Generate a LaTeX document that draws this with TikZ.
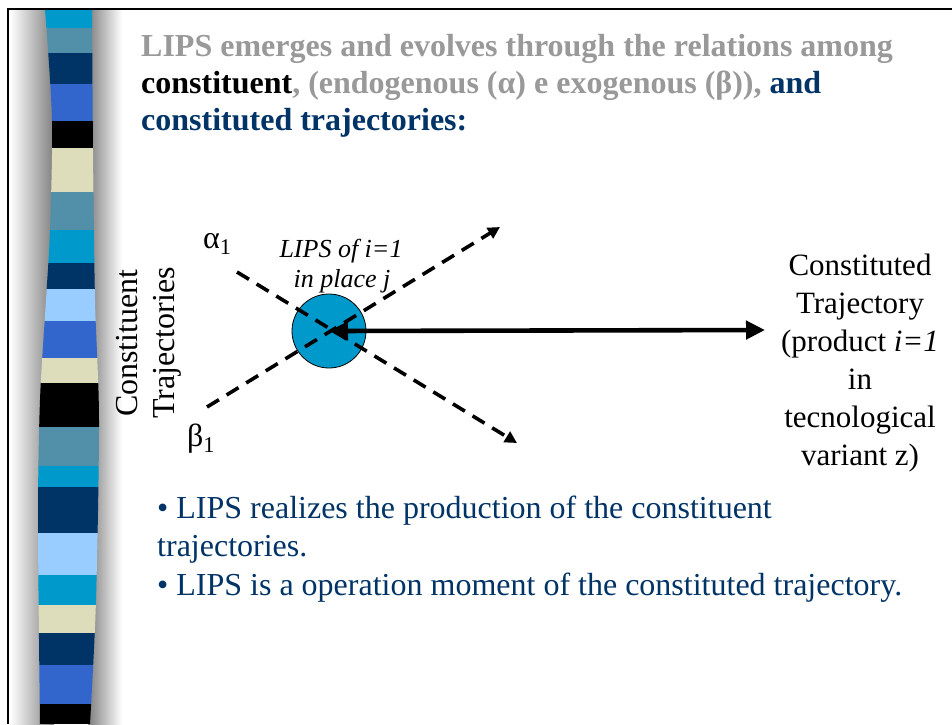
\documentclass[tikz,border=0pt]{standalone}
\usepackage{fontspec}
\setmainfont{Liberation Serif}
\usetikzlibrary{
    arrows.meta,
    positioning
}
\definecolor{titlegray}{RGB}{153,153,153}
\definecolor{deepblue}{RGB}{0,51,102}
\definecolor{lipsblue}{RGB}{0,153,204}
\definecolor{barcyan}{RGB}{0,153,204}
\definecolor{barteal}{RGB}{82,144,170}
\definecolor{barnavy}{RGB}{0,51,102}
\definecolor{barblue}{RGB}{51,102,204}
\definecolor{barcream}{RGB}{221,221,187}
\definecolor{barsky}{RGB}{153,204,255}
\tikzset{
  titleline/.style  = {anchor=base west, inner sep=0pt,
                       font=\fontsize{32}{37}\selectfont\bfseries, text=titlegray},
  bulletline/.style = {anchor=base west, inner sep=0pt,
                       font=\fontsize{32}{38}\selectfont, text=deepblue},
  trajtext/.style   = {align=center, inner sep=0pt,
                       font=\fontsize{31}{38}\selectfont},
  greeklbl/.style   = {anchor=base west, inner sep=0pt,
                       font=\fontsize{32}{36}\selectfont},
  lipslbl/.style    = {anchor=base, inner sep=0pt,
                       font=\fontsize{26}{30}\selectfont\itshape},
  dasharr/.style    = {-{Triangle[length=12pt,width=12pt]}, line width=3.6pt,
                       dash pattern=on 14pt off 9pt},
  mainarr/.style    = {{Triangle[length=19pt,width=18pt]}-{Triangle[length=19pt,width=18pt]},
                       line width=4.6pt}
}

\begin{document}
\begin{tikzpicture}[x=1pt, y=-1pt]
    \useasboundingbox (0,0) rectangle (952,724);
    \fill[white] (0,0) rectangle (952,724);

    % decorative stripe
    \shade[left color=white, right color=black!50] (10,9) rectangle (54,724);
    \shade[left color=black!50, right color=white] (88,9) rectangle (122,724);
    \begin{scope}
      \clip plot[smooth] coordinates {(45,9) (52,120) (50,230) (46,300) (40,400) (38,520) (40,724)}
            -- plot[smooth] coordinates {(90,724) (96,600) (99,420) (95,300) (93,150) (92,9)} -- cycle;
      \foreach \ytop/\ybot/\col in {9/28/barcyan, 28/53/barteal, 53/84/barnavy,
          84/121/barblue, 121/148/black, 148/192/barcream, 192/230/barteal,
          230/263/barcyan, 263/289/barnavy, 289/321/barsky, 321/358/barblue,
          358/383/barcream, 383/427/black, 427/466/barteal, 466/487/barcyan,
          487/533/barnavy, 533/575/barsky, 575/605/barcyan, 605/633/barcream,
          633/665/barnavy, 665/704/barblue, 704/724/black}
        \fill[\col] (30,\ytop) rectangle (110,\ybot);
    \end{scope}
    \draw[line width=2pt] (8,724) -- (8,9) -- (952,9);

    % title
    \node[titleline] (title1) at (141,56) {LIPS emerges and evolves through the relations among};
    \node[titleline] (title2) at (141,93) {\textcolor{black}{constituent}, (endogenous (α) e exogenous (β)), \textcolor{deepblue}{and}};
    \node[titleline, text=deepblue] (title3) at (141,130) {constituted trajectories:};

    % diagram
    \node[circle, draw, line width=0.8pt, fill=lipsblue, minimum size=74pt, inner sep=0pt] (lips) at (329,331) {};
    \coordinate (alphastart) at (237,272);
    \coordinate (alphaend)   at (517,443);
    \coordinate (betastart)  at (207,407);
    \coordinate (betaend)    at (500,227);
    \coordinate (prodtip)    at (765,330);
    \draw[dasharr] (alphastart) -- (alphaend);
    \draw[dasharr] (betastart) -- (betaend);
    \draw[mainarr] (lips.center) -- (prodtip);

    \node[greeklbl] (alphalbl) at (203,248) {α\textsubscript{1}};
    \node[greeklbl] (betalbl)  at (187,446) {β\textsubscript{1}};
    \node[lipslbl] (lipsname)  at (341,257) {LIPS of i=1};
    \node[lipslbl] (lipsplace) at (342,287) {in place j};
    \node[trajtext, rotate=90, font=\fontsize{32}{37}\selectfont] (constituent) at (149,343) {Constituent\\Trajectories};
    \node[trajtext] (constituted) at (860,363) {Constituted\\Trajectory\\(product \textit{i=1}\\in\\tecnological\\variant z)};

    % remarks
    \node[bulletline] (bullet1) at (157,518) {• LIPS realizes the production of the constituent};
    \node[bulletline] (bullet2) at (157,556) {trajectories.};
    \node[bulletline] (bullet3) at (157,595) {• LIPS is a operation moment of the constituted trajectory.};
\end{tikzpicture}
\end{document}
